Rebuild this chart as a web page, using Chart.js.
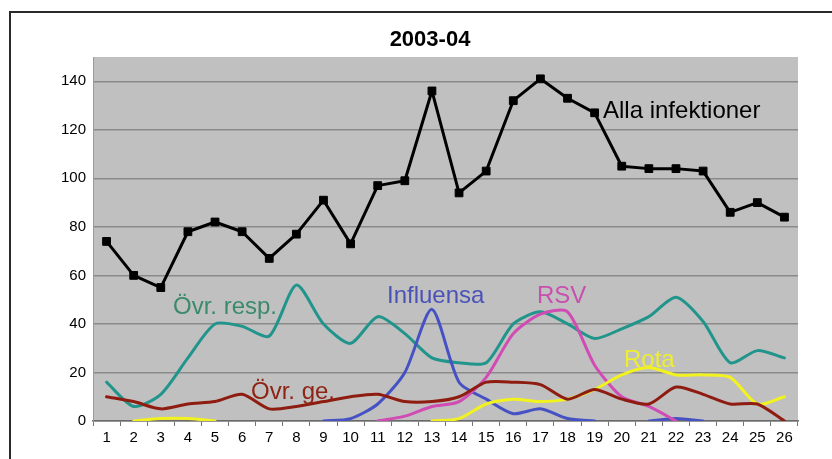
<!DOCTYPE html>
<html>
<head>
<meta charset="utf-8">
<script src="https://cdn.jsdelivr.net/npm/chart.js@4"></script>
<style>
  html, body { margin: 0; padding: 0; background: #fff; overflow: hidden; }
  #wrap { position: relative; width: 832px; height: 459px; }
</style>
</head>
<body>
<div id="wrap"><canvas id="chart" width="832" height="459"></canvas></div>
<script>
// ── DATA ────────────────────────────────────────────────────
const weeks = ['1','2','3','4','5','6','7','8','9','10','11','12','13',
               '14','15','16','17','18','19','20','21','22','23','24','25','26'];

const allaInfektioner = [74, 60, 55, 78, 82, 78, 67, 77, 91, 73, 97, 99, 136,
                         94, 103, 132, 141, 133, 127, 105, 104, 104, 103, 86, 90, 84];
const ovrResp   = [16, 6, 11, 26, 40, 39, 35, 56, 40, 32, 43, 36, 26,
                   24, 24, 40, 45, 40, 34, 38, 43, 51, 41, 24, 29, 26];
const influensa = [null, null, null, null, null, null, null, null, 0, 1, 7, 20, 46,
                   16, 9, 3, 5, 1, 0, null, 0, 1, 0, null, null, null];
const rsv       = [null, null, null, null, null, null, null, null, null, null, 0, 2, 6,
                   8, 18, 36, 44, 45, 23, 10, 6, 0, null, null, null, null];
const rota      = [null, 0, 1, 1, 0, null, null, null, null, null, null, null, 0,
                   1, 7, 9, 8, 9, 13, 19, 22, 19, 19, 18, 7, 10];
const ovrGe     = [10, 8, 5, 7, 8, 11, 5, 6, 8, 10, 11, 8, 8,
                   10, 16, 16, 15, 9, 13, 9, 7, 14, 11, 7, 7, 0];

const yTicks = [0, 20, 40, 60, 80, 100, 120, 140];

// ── HELPERS ─────────────────────────────────────────────────
function series(label, data, color, extra) {
  return Object.assign({
    label, data,
    borderColor: color,
    backgroundColor: color,
    borderWidth: 3,
    pointRadius: 0,
    tension: 0.25,
    spanGaps: false,
    borderJoinStyle: 'round',
    borderCapStyle: 'round',
  }, extra || {});
}

// frame, plot background, title and in-chart labels
const decor = {
  id: 'decor',
  beforeDraw(chart) {
    const { ctx, chartArea: a } = chart;
    ctx.save();
    ctx.fillStyle = '#fff';
    ctx.fillRect(0, 0, chart.width, chart.height);
    ctx.fillStyle = '#c0c0c0';
    ctx.fillRect(a.left, a.top, a.right - a.left, a.bottom - a.top);
    ctx.restore();
  },
  afterDraw(chart) {
    const { ctx } = chart;
    ctx.save();
    ctx.strokeStyle = '#2a2a2a';
    ctx.lineWidth = 2;
    ctx.strokeRect(10, 12, 900, 500);

    ctx.fillStyle = '#000';
    ctx.font = 'bold 22px "Liberation Sans", Arial, sans-serif';
    ctx.textAlign = 'center';
    ctx.textBaseline = 'alphabetic';
    ctx.fillText('2003-04', 430, 46);

    ctx.textAlign = 'left';
    ctx.font = '24px "Liberation Sans", Arial, sans-serif';
    const labels = [
      ['Alla infektioner', 603, 118, '#000000'],
      ['Övr. resp.',       173, 314, '#3a8a6c'],
      ['Influensa',        387, 303, '#4a52b8'],
      ['RSV',              537, 303, '#c84fae'],
      ['Rota',             624, 367, '#eeee30'],
      ['Övr. ge.',         251, 399, '#8e2414'],
    ];
    labels.forEach(([t, x, y, c]) => {
      ctx.fillStyle = c;
      ctx.fillText(t, x, y);
    });
    ctx.restore();
  }
};

// ── CHART ───────────────────────────────────────────────────
const ctx = document.getElementById('chart').getContext('2d');
new Chart(ctx, {
  type: 'line',
  data: {
    labels: weeks,
    datasets: [
      series('Övr. ge.', ovrGe, '#8e1c10'),
      series('Rota', rota, '#f2f21e'),
      series('RSV', rsv, '#d04cb4'),
      series('Influensa', influensa, '#4652c4'),
      series('Övr. resp.', ovrResp, '#21958c'),
      series('Alla infektioner', allaInfektioner, '#000000', {
        tension: 0,
        borderWidth: 3,
        pointStyle: 'rect',
        pointRadius: 5.5,
        pointBorderWidth: 1,
        pointBorderColor: '#000',
        pointBackgroundColor: '#000',
      }),
    ]
  },
  options: {
    responsive: false,
    animation: false,
    layout: { padding: { left: 0, top: 57, right: 34, bottom: 0 } },
    plugins: {
      legend: { display: false },
      title: { display: false },
      tooltip: { enabled: false },
    },
    scales: {
      x: {
        offset: true,
        grid: {
          offset: true,
          drawOnChartArea: false,
          drawTicks: true,
          tickLength: 5,
          color: '#777',
        },
        border: { display: true, color: '#6a6a6a', width: 1.5 },
        ticks: {
          color: '#000',
          padding: 3,
          maxRotation: 0,
          autoSkip: false,
          font: { family: '"Liberation Sans", Arial, sans-serif', size: 15 },
        },
        afterFit: s => { s.height = 38; },
      },
      y: {
        min: 0,
        max: 150,
        afterBuildTicks: s => { s.ticks = yTicks.map(v => ({ value: v })); },
        grid: { color: '#8a8a8a', lineWidth: 1.5, drawTicks: false },
        border: { display: true, color: '#9a9a9a', width: 1 },
        ticks: {
          color: '#000',
          padding: 7,
          font: { family: '"Liberation Sans", Arial, sans-serif', size: 15 },
        },
        afterFit: s => { s.width = 93; },
      }
    }
  },
  plugins: [decor]
});
</script>
</body>
</html>
